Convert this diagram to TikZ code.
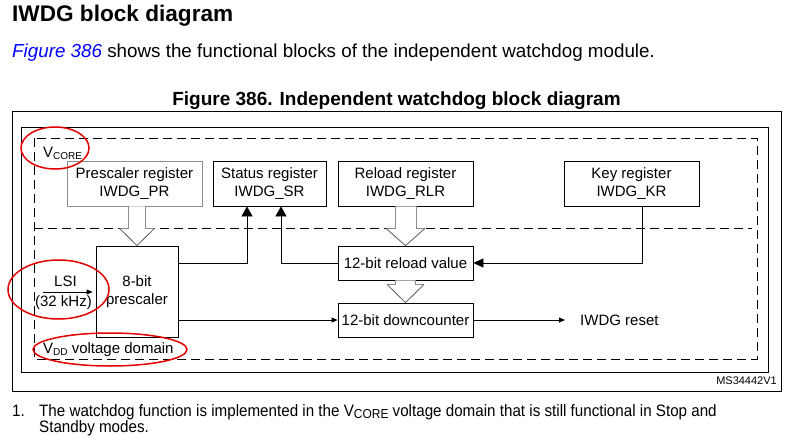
\documentclass[tikz,border=0pt]{standalone}
\usepackage{fontspec}
\setmainfont{Liberation Sans}
\newfontfamily\narrowfont[FakeStretch=0.92]{Liberation Sans}
\usetikzlibrary{arrows.meta,calc}
\definecolor{linkblue}{RGB}{0,0,255}
\definecolor{ered}{RGB}{228,0,0}
\definecolor{gbox}{RGB}{140,140,140}
\definecolor{ghead}{RGB}{90,90,90}
\newcommand\hollowarr[5]{%
  \coordinate (T) at (#2 |- #1);
  \fill[white] ($(T)+(-#3,0)$) -- ($(T)+(-#3,#5)$) -- ($(T)+(-#4,#5)$) -- (#2) -- ($(T)+(#4,#5)$) -- ($(T)+(#3,#5)$) -- ($(T)+(#3,0)$) -- cycle;
  \draw[shaft] ($(T)+(-#3,0)$) -- ($(T)+(-#3,#5)$) -- ($(T)+(-#4,#5)$);
  \draw[shaft] ($(T)+(#3,0)$) -- ($(T)+(#3,#5)$) -- ($(T)+(#4,#5)$);
  \draw[head] ($(T)+(-#4,#5)$) -- (#2) -- ($(T)+(#4,#5)$);
}
\begin{document}
\begin{tikzpicture}[x=1pt,y=-1pt,
  reg/.style={draw, line width=0.8pt, minimum width=135pt, minimum height=45pt, inner sep=0pt, align=center, font=\fontsize{15}{18}\selectfont},
  frame/.style={draw, line width=0.8pt},
  dom/.style={draw, line width=0.8pt, dash pattern=on 9pt off 5pt},
  conn/.style={draw, line width=0.8pt},
  bigtri/.style={-{Triangle[length=10pt,width=11pt]}},
  smalltri/.style={-{Triangle[length=6pt,width=5pt]}},
  shaft/.style={draw=gbox, line width=0.8pt},
  head/.style={draw=ghead, line width=0.8pt},
  redell/.style={draw=ered, line width=1.5pt},
  lbl/.style={inner sep=0pt, font=\fontsize{15}{18}\selectfont}
]
\useasboundingbox (0,0) rectangle (790,436);

% headings
\node[anchor=base west, inner sep=0pt, font=\fontsize{22.6}{26}\selectfont\bfseries] (title) at (12,22) {IWDG block diagram};
\node[anchor=base west, inner sep=0pt, font=\fontsize{18.8}{22}\selectfont] (para) at (12,58) {\textcolor{linkblue}{\itshape Figure 386} shows the functional blocks of the independent watchdog module.};
\node[anchor=base, inner sep=0pt, font=\fontsize{19}{22}\selectfont\bfseries] (caption) at (396.5,106) {Figure 386. Independent watchdog block diagram};

% frames
\draw[frame] (12,111) rectangle (781,391);
\draw[frame] (21,127) rectangle (768,372);
\draw[dom] (34,138) rectangle (757,359);
\draw[dom] (34,228) -- (752,228);

% boxes
\node[reg, draw=gbox] (pr) at (134.5,183.5) {Prescaler register\\IWDG\_PR};
\node[reg, minimum width=113pt] (sr) at (269.5,183.5) {Status register\\IWDG\_SR};
\node[reg] (rlr) at (405.5,183.5) {Reload register\\IWDG\_RLR};
\node[reg] (kr) at (631.5,183.5) {Key register\\IWDG\_KR};
\node[reg, minimum width=82pt, minimum height=91pt] (ps) at (137,291.5) {8-bit\\prescaler};
\node[reg, minimum height=34pt] (rv) at (405.5,263) {12-bit reload value};
\node[reg, minimum height=34pt] (dc) at (405.5,320) {12-bit downcounter};

% hollow arrows
\hollowarr{pr.south}{ps.north}{8.5}{17.5}{22}
\hollowarr{rlr.south}{rv.north}{10.5}{19.5}{22}
\hollowarr{rv.south}{dc.north}{10}{18.5}{4}

% connectors
\draw[conn, bigtri] (ps.east |- rv.west) -| ($(sr.south)+(-22.5,0)$);
\draw[conn, bigtri] (rv.west) -| ($(sr.south)+(11.5,0)$);
\draw[conn, -{Triangle[length=10pt,width=9pt]}] ($(kr.south)+(10.5,0)$) |- (rv.east);
\draw[conn, smalltri] (ps.east |- dc.west) -- (dc.west);
\node[lbl, anchor=west] (rst) at (580,320) {IWDG reset};
\draw[conn, smalltri] (dc.east) -- ($(rst.west)+(-15,0)$);

% LSI
\node[lbl, anchor=base] (lsi) at (65.5,286.5) {LSI};
\node[lbl, anchor=base] (khz) at (63.5,306) {(32 kHz)};
\coordinate (lsiin) at (43,292);
\draw[conn, smalltri] (lsiin) -- ($(ps.west |- lsiin)+(-3,0)$);

% domain labels
\node[lbl, anchor=base west] (vcore) at (43,157) {V\raisebox{-2.5pt}{\fontsize{10}{12}\selectfont CORE}};
\node[lbl, anchor=base west] (vdd) at (43,353) {V\raisebox{-2.5pt}{\fontsize{10}{12}\selectfont DD} voltage domain};

% red ellipses
\draw[redell] (55,148) ellipse [x radius=34pt, y radius=21pt];
\draw[redell] (58.5,289.5) ellipse [x radius=50.5pt, y radius=29.5pt];
\draw[redell] (110,349.5) ellipse [x radius=77pt, y radius=16.5pt];

% ref code
\node[anchor=base east, inner sep=0pt, font=\fontsize{11}{13}\selectfont] (ms) at (777,384) {MS34442V1};

% footnote
\node[anchor=base west, inner sep=0pt, font=\fontsize{16.5}{14}\narrowfont] (fn1) at (12,416) {1.};
\node[anchor=north west, inner sep=0pt, align=left, font=\fontsize{16.5}{14}\narrowfont] (fn2) at (39,404) {The watchdog function is implemented in the V\raisebox{-2.5pt}{\fontsize{13}{14}\selectfont CORE} voltage domain that is still functional in Stop and\\Standby modes.};
\end{tikzpicture}
\end{document}
